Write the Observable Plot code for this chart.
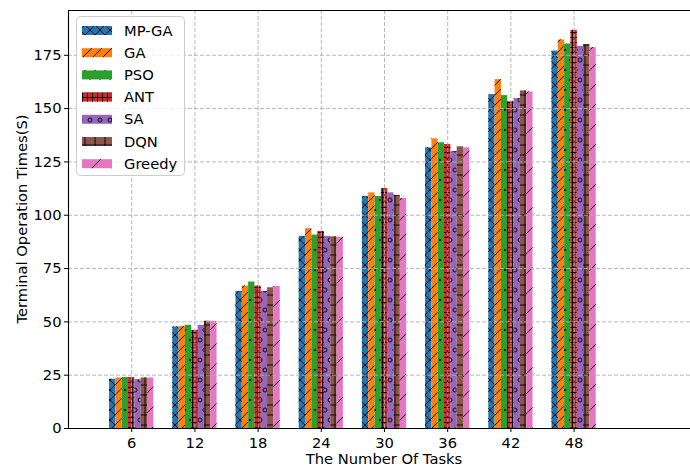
<!DOCTYPE html>
<html><head><meta charset="utf-8">
<script src="https://cdn.jsdelivr.net/npm/d3@7"></script>
<script src="https://cdn.jsdelivr.net/npm/@observablehq/plot@0.6"></script>
<style>html,body{margin:0;padding:0;background:#fff;overflow:hidden}</style>
</head><body><div id="chart"></div>
<script>
// ---- data ----
const tasks = [6, 12, 18, 24, 30, 36, 42, 48];
const seriesNames = ["MP-GA", "GA", "PSO", "ANT", "SA", "DQN", "Greedy"];
const mpga   = [23.1, 47.6, 64.3, 90.1, 108.8, 131.6, 156.6, 177.0];
const ga     = [23.7, 47.9, 66.8, 93.7, 110.5, 135.8, 163.6, 182.2];
const pso    = [23.9, 48.4, 68.7, 90.7, 108.8, 134.0, 156.1, 180.3];
const ant    = [23.7, 46.0, 66.8, 92.4, 112.5, 133.2, 153.2, 186.7];
const sa     = [22.9, 48.4, 64.3, 90.1, 110.5, 129.9, 154.7, 179.2];
const dqn    = [23.7, 50.3, 66.0, 89.9, 109.3, 132.1, 158.3, 180.0];
const greedy = [23.7, 50.3, 66.6, 89.7, 107.9, 131.6, 157.8, 178.6];
const yTicks = [0, 25, 50, 75, 100, 125, 150, 175];
const xTitle = "The Number Of Tasks";
const yTitle = "Terminal Operation Times(S)";

// ---- styles ----
const colors = ["#1f77b4", "#ff7f0e", "#2ca02c", "#d62728", "#9467bd", "#8c564b", "#e377c2"];
const values = [mpga, ga, pso, ant, sa, dqn, greedy];
const barW = 0.6; // in task units (0.1 of category spacing)
const yMax = 196;
const FS = 14.7;
const FONT = "'DejaVu Sans', sans-serif";

const rows = seriesNames.map((s, i) => tasks.map((t, j) => ({
  series: s, task: t, value: values[i][j],
  x1: t + (i - 3.5) * barW, x2: t + (i - 2.5) * barW
})));

const lineStyle = {stroke: "#000", strokeWidth: 1.1};
const chart = Plot.plot({
  width: 690, height: 470,
  marginLeft: 68, marginRight: -10, marginTop: 10, marginBottom: 42,
  style: {fontFamily: FONT, fontSize: FS + "px", color: "#000", background: "#fff"},
  x: {type: "linear", domain: [0, 60]},
  y: {domain: [0, yMax]},
  marks: [
    ...rows.flatMap((r, i) => [
      Plot.rect(r, {x1: "x1", x2: "x2", y1: 0, y2: "value", fill: colors[i]}),
      Plot.rect(r, {x1: "x1", x2: "x2", y1: 0, y2: "value", fill: `url(#hatch${i})`})
    ]),
    Plot.gridY(yTicks, {stroke: "#b0b0b0", strokeOpacity: 1, strokeDasharray: "4,2", strokeWidth: 0.9}),
    Plot.gridX(tasks, {stroke: "#b0b0b0", strokeOpacity: 1, strokeDasharray: "4,2", strokeWidth: 0.9}),
    Plot.ruleX([0], lineStyle),
    Plot.ruleY([0], lineStyle),
    Plot.ruleY([yMax], lineStyle),
    Plot.axisX(tasks, {tickSize: 4, tickPadding: 5, label: null, fontSize: FS}),
    Plot.axisY(yTicks, {tickSize: 4, tickPadding: 3, label: null, fontSize: FS})
  ]
});
document.getElementById("chart").appendChild(chart);

// ---- hatch patterns ----
const svg = d3.select(chart);
const defs = svg.insert("defs", ":first-child");
const hw = 0.9;
function pat(id, w, h) {
  return defs.append("pattern").attr("id", id).attr("patternUnits", "userSpaceOnUse")
    .attr("width", w).attr("height", h);
}
function slash(id, P) {
  pat(id, P, P).append("path")
    .attr("d", `M0,${P}L${P},0M-2,2L2,-2M${P-2},${P+2}L${P+2},${P-2}`)
    .attr("stroke", "#000").attr("stroke-width", hw).attr("fill", "none");
}
function cross(id, P) {
  pat(id, P, P).append("path")
    .attr("d", `M0,${P/2}H${P}M${P/2},0V${P}`)
    .attr("stroke", "#000").attr("stroke-width", hw).attr("fill", "none");
}
function dots(id, P, r, filled) {
  const p = pat(id, P, 2 * P);
  [[0, 0], [P, 0], [0, 2 * P], [P, 2 * P], [P / 2, P]].forEach(([cx, cy]) => {
    const c = p.append("circle").attr("cx", cx).attr("cy", cy).attr("r", r);
    if (filled) c.attr("fill", "#000");
    else c.attr("fill", "none").attr("stroke", "#000").attr("stroke-width", hw);
  });
}
pat("hatch0", 10, 10).append("path").attr("d", "M0,0L10,10M0,10L10,0")
  .attr("stroke", "#000").attr("stroke-width", hw).attr("fill", "none"); // MP-GA: x
slash("hatch1", 10);           // GA: //
dots("hatch2", 10, 1.1, true); // PSO: .
cross("hatch3", 5);            // ANT: ++
dots("hatch4", 10, 2, false);  // SA: o
cross("hatch5", 10);           // DQN: +
slash("hatch6", 20);           // Greedy: /

// ---- axis titles ----
const xr = chart.scale("x").range;
const yr = chart.scale("y").range;
svg.append("text").attr("x", (xr[0] + xr[1]) / 2).attr("y", 464)
  .attr("text-anchor", "middle").attr("font-family", FONT).attr("font-size", FS).attr("fill", "#000").text(xTitle);
svg.append("text").attr("transform", `translate(22,${(yr[0] + yr[1]) / 2}) rotate(-90)`)
  .attr("text-anchor", "middle").attr("dy", "0.35em").attr("font-family", FONT).attr("font-size", FS).attr("fill", "#000").text(yTitle);

// ---- legend ----
const lg = svg.append("g").attr("font-family", FONT).attr("font-size", FS).attr("text-anchor", "start");
lg.append("rect").attr("x", 76.5).attr("y", 16.5).attr("width", 108).attr("height", 159).attr("rx", 4)
  .attr("fill", "#fff").attr("fill-opacity", 0.8).attr("stroke", "#cccccc").attr("stroke-width", 1);
seriesNames.forEach((s, i) => {
  const cy = 30.5 + i * 22.2;
  lg.append("rect").attr("x", 82).attr("y", cy - 4.5).attr("width", 30).attr("height", 9).attr("fill", colors[i]);
  lg.append("rect").attr("x", 82).attr("y", cy - 4.5).attr("width", 30).attr("height", 9).attr("fill", `url(#hatch${i})`);
  lg.append("text").attr("x", 124).attr("y", cy).attr("dy", "0.35em").attr("text-anchor", "start").attr("fill", "#000").text(s);
});
</script>
</body></html>
